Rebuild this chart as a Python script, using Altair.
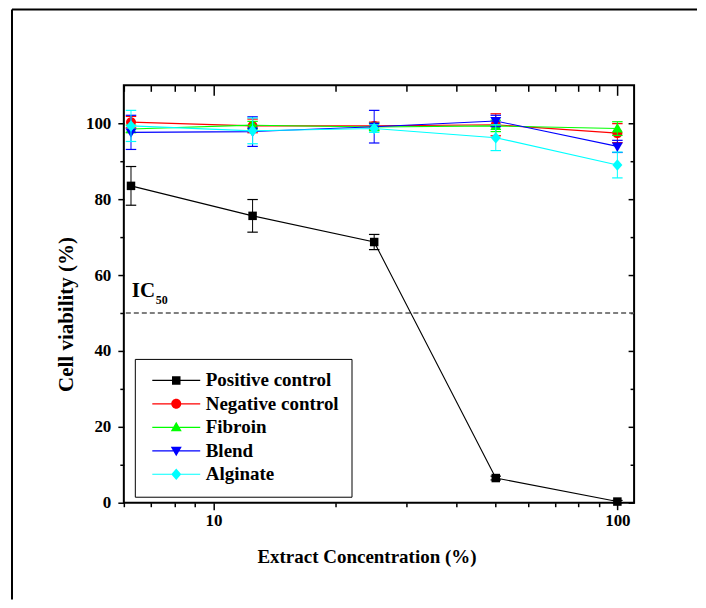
import altair as alt
import pandas as pd

# ---------------- data ----------------
conc = [6.25, 12.5, 25, 50, 100]
series = ["Positive control", "Negative control", "Fibroin", "Blend", "Alginate"]
colors = ["#000000", "#ff0000", "#00ff00", "#0000ff", "#00ffff"]

positive = [83.5, 75.6, 68.7, 6.5, 0.3]
positive_err = [5.1, 4.3, 2.0, 0.5, 0.3]
negative = [100.3, 99.3, 99.3, 99.6, 97.4]
negative_err = [1.5, 1.8, 1.0, 2.9, 2.5]
fibroin = [98.5, 99.5, 99.0, 99.3, 98.6]
fibroin_err = [1.0, 1.0, 1.0, 1.5, 1.8]
blend = [97.6, 97.8, 99.1, 100.6, 93.9]
blend_err = [4.5, 3.9, 4.3, 1.5, 1.6]
alginate = [99.3, 98.0, 98.6, 96.2, 89.0]
alginate_err = [4.1, 3.4, 1.0, 3.4, 3.4]

x_ticks_major = [10, 100]
x_ticks_minor = [6, 7, 8, 9, 20, 30, 40, 50, 60, 70, 80, 90]
y_ticks_major = [0, 20, 40, 60, 80, 100]
y_ticks_minor = [10, 30, 50, 70, 90]
x_domain = [6, 110]
y_domain = [0, 110]
ic50 = 50

values = [positive, negative, fibroin, blend, alginate]
errors = [positive_err, negative_err, fibroin_err, blend_err, alginate_err]

rows = []
for s, vals, errs in zip(series, values, errors):
    for c, v, e in zip(conc, vals, errs):
        rows.append({"series": s, "conc": c, "value": v, "lo": v - e, "hi": v + e})
df = pd.DataFrame(rows)

# ---------------- styling ----------------
W, H = 511, 418
FONT = "Liberation Serif"

LINE = "M-4.8,-0.12H4.8V0.12H-4.8Z"
marker_paths = [
    "M-0.85,-0.85H0.85V0.85H-0.85Z",
    "M-1,0A1,1 0 1,1 1,0A1,1 0 1,1 -1,0Z",
    "M0,-1.1L1.1,0.8H-1.1Z",
    "M0,1.1L-1.1,-0.8H1.1Z",
    "M0,-1.15L1,0L0,1.15L-1,0Z",
]
legend_paths = [LINE + " " + p for p in marker_paths]

xs = alt.Scale(type="log", domain=x_domain, nice=False)
ys = alt.Scale(domain=y_domain, nice=False, zero=False)
color_scale = alt.Scale(domain=series, range=colors)

X = alt.X("conc:Q", scale=xs, axis=None)
Y = alt.Y("value:Q", scale=ys, axis=None)
YLO = alt.Y("lo:Q", scale=ys, axis=None)
YHI = alt.Y("hi:Q", scale=ys, axis=None)

base = alt.Chart(df)

series_layers = []
for s, col, path in zip(series, colors, marker_paths):
    sub = base.transform_filter(alt.datum.series == s)
    series_layers.append(sub.mark_rule(strokeWidth=1, color=col).encode(x=X, y=YLO, y2="hi:Q"))
    series_layers.append(sub.mark_point(shape="stroke", size=110, strokeWidth=1.2,
                                        filled=False, color=col, opacity=1).encode(x=X, y=YLO))
    series_layers.append(sub.mark_point(shape="stroke", size=110, strokeWidth=1.2,
                                        filled=False, color=col, opacity=1).encode(x=X, y=YHI))
    series_layers.append(sub.mark_line(strokeWidth=1.1, color=col).encode(x=X, y=Y))
    series_layers.append(sub.mark_point(shape=path, size=100, filled=True, color=col,
                                        opacity=1, strokeWidth=0).encode(x=X, y=Y))

# IC50 dashed line and label
ic_df = pd.DataFrame({"ic50": [ic50], "xmin": [x_domain[0]]})
ic_rule = alt.Chart(ic_df).mark_rule(
    color="#555555", strokeDash=[5, 3], strokeWidth=1.3
).encode(y=alt.Y("ic50:Q", scale=ys, axis=None))
ic_text = alt.Chart(ic_df).mark_text(
    text="IC", align="left", baseline="alphabetic", fontSize=21, fontWeight="bold",
    font=FONT, color="black", dx=8, dy=-16
).encode(x=alt.X("xmin:Q", scale=xs, axis=None), y=alt.Y("ic50:Q", scale=ys, axis=None))
ic_sub = alt.Chart(ic_df).mark_text(
    text="50", align="left", baseline="alphabetic", fontSize=12, fontWeight="bold",
    font=FONT, color="black", dx=32, dy=-9
).encode(x=alt.X("xmin:Q", scale=xs, axis=None), y=alt.Y("ic50:Q", scale=ys, axis=None))

# legend carrier (hidden points, clipped away)
leg_df = pd.DataFrame({"series": series})
legend_def = alt.Legend(
    title=None, orient="none", legendX=11, legendY=274,
    strokeColor="black", fillColor="white", padding=12,
    symbolSize=100, symbolOffset=20, labelOffset=20, rowPadding=3.5,
    symbolStrokeWidth=0, symbolOpacity=1, labelFont=FONT, labelFontSize=19,
    labelFontWeight="bold", labelColor="black", cornerRadius=0,
)
legend_layer = alt.Chart(leg_df).mark_point(filled=True, size=100, clip=True, opacity=1).encode(
    x=alt.value(-300), y=alt.value(-300),
    color=alt.Color("series:N", scale=color_scale, legend=legend_def),
    shape=alt.Shape("series:N", scale=alt.Scale(domain=series, range=legend_paths),
                    legend=legend_def),
)

# axes carriers
def xaxis(**kw):
    return base.mark_point(opacity=0).encode(
        x=alt.X("conc:Q", scale=xs, axis=alt.Axis(**kw))
    )

def yaxis(**kw):
    return base.mark_point(opacity=0).encode(
        y=alt.Y("value:Q", scale=ys, axis=alt.Axis(**kw))
    )

axes = [
    xaxis(orient="bottom", values=x_ticks_major, format="d", tickSize=7, labelPadding=3,
          title="Extract Concentration (%)", titleFontSize=19, titleX=243, titleY=60,
          titleBaseline="alphabetic", titleAlign="center"),
    xaxis(orient="bottom", values=x_ticks_minor, tickSize=4, labels=False, title=None),
    xaxis(orient="bottom", offset=-H, values=x_ticks_major, tickSize=10, labels=False, title=None),
    xaxis(orient="bottom", offset=-H, values=x_ticks_minor, tickSize=6, labels=False, title=None),
    yaxis(orient="left", values=y_ticks_major, tickSize=6, labelPadding=7,
          title="Cell viability (%)", titleFontSize=21, titleX=-51, titleY=229,
          titleAngle=270, titleBaseline="alphabetic", titleAlign="center"),
    yaxis(orient="left", values=y_ticks_minor, tickSize=4, labels=False, title=None),
    yaxis(orient="left", offset=-W, values=y_ticks_major, tickSize=6, labels=False, title=None),
    yaxis(orient="left", offset=-W, values=y_ticks_minor, tickSize=4, labels=False, title=None),
]

# outer figure frame (top and left edges)
one = pd.DataFrame({"a": [0]})
frame_left = alt.Chart(one).mark_rule(color="black", strokeWidth=2).encode(
    x=alt.value(-112), y=alt.value(-76), y2=alt.value(515)
)
frame_top = alt.Chart(one).mark_rule(color="black", strokeWidth=2).encode(
    x=alt.value(-112), x2=alt.value(574), y=alt.value(-76)
)

chart = alt.layer(
    *axes, frame_left, frame_top, ic_rule, ic_text, ic_sub,
    *series_layers, legend_layer
).resolve_axis(
    x="independent", y="independent"
).properties(
    width=W, height=H, padding={"left": 3, "top": 0, "right": 0, "bottom": 0}
).configure_view(
    stroke="black", strokeWidth=2
).configure_axis(
    domain=False, grid=False, tickColor="black", tickWidth=1.5,
    labelFont=FONT, labelFontWeight="bold", labelFontSize=17, labelColor="black",
    titleFont=FONT, titleFontWeight="bold", titleColor="black",
)

chart.save("out.html", embed_options={"renderer": "svg", "actions": False})
